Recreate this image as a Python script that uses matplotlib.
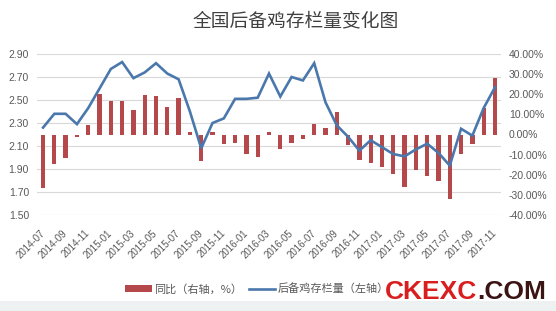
import matplotlib.pyplot as plt
from matplotlib.patches import Rectangle

plt.rcParams['font.family'] = ['Noto Sans CJK SC', 'DejaVu Sans']

months = [
    '2014-07', '2014-08', '2014-09', '2014-10', '2014-11', '2014-12',
    '2015-01', '2015-02', '2015-03', '2015-04', '2015-05', '2015-06',
    '2015-07', '2015-08', '2015-09', '2015-10', '2015-11', '2015-12',
    '2016-01', '2016-02', '2016-03', '2016-04', '2016-05', '2016-06',
    '2016-07', '2016-08', '2016-09', '2016-10', '2016-11', '2016-12',
    '2017-01', '2017-02', '2017-03', '2017-04', '2017-05', '2017-06',
    '2017-07', '2017-08', '2017-09', '2017-10', '2017-11',
]

# 后备鸡存栏量 (left axis)
stock = [2.26, 2.38, 2.38, 2.29, 2.43, 2.60, 2.77, 2.83, 2.69, 2.74, 2.82,
         2.73, 2.68, 2.40, 2.08, 2.30, 2.34, 2.51, 2.51, 2.52, 2.73, 2.53,
         2.70, 2.67, 2.82, 2.48, 2.28, 2.18, 2.06, 2.15, 2.09, 2.03, 2.01,
         2.07, 2.12, 2.04, 1.93, 2.25, 2.19, 2.43, 2.61]

# 同比 % (right axis)
yoy = [-26.7, -14.5, -11.7, -1.0, 4.7, 20.3, 16.7, 16.7, 12.2, 19.7, 19.2,
       13.8, 18.0, 1.0, -13.0, 1.0, -4.7, -4.0, -9.5, -11.2, 1.0, -7.2,
       -4.0, -2.2, 5.3, 3.0, 11.2, -5.3, -12.5, -14.2, -16.3, -19.7, -26.2,
       -17.8, -20.5, -23.3, -32.0, -9.5, -4.7, 13.3, 28.3]

left_ticks = [1.50, 1.70, 1.90, 2.10, 2.30, 2.50, 2.70, 2.90]
right_ticks = [-40, -30, -20, -10, 0, 10, 20, 30, 40]

bar_color = '#B5484A'
line_color = '#4A78AC'
tick_color = '#595959'

fig = plt.figure(figsize=(5.56, 3.11), dpi=100)
fig.patch.set_facecolor('white')
# light grey band at the bottom of the picture
fig.patches.append(Rectangle((0, 0), 1, 10 / 311, transform=fig.transFigure,
                             facecolor='#EEF1F1', edgecolor='none', zorder=0))

ax = fig.add_axes([37.4 / 556, 1 - 215 / 311, (500.6 - 37.4) / 556, (215 - 54) / 311])
ax2 = ax.twinx()

x = list(range(len(months)))

# grid from the left axis
ax.set_ylim(1.50, 2.90)
ax.set_yticks(left_ticks)
ax.set_yticklabels([f'{v:.2f}' for v in left_ticks], family='Liberation Sans',
                   fontsize=7.5, color=tick_color)
ax.grid(axis='y', color='#D9D9D9', linewidth=0.8)
ax.set_axisbelow(True)
ax.set_xlim(-0.5, len(months) - 0.5)

# bars on the right axis
bars = ax2.bar(x, yoy, width=0.38, color=bar_color, zorder=2)
ax2.set_ylim(-40, 40)
ax2.set_yticks(right_ticks)
ax2.set_yticklabels([f'{v:.2f}%' for v in right_ticks], family='Liberation Sans',
                    fontsize=7.5, color=tick_color)
# line uses the left scale but is drawn above the bars
line, = ax2.plot(x, stock, color=line_color, linewidth=1.9, zorder=3,
                 transform=ax.transData, solid_joinstyle='miter')

ax.set_xticks(x[::2])
ax.set_xticklabels(months[::2], rotation=45, ha='right', va='center',
                   rotation_mode='anchor', family='Liberation Sans',
                   fontsize=7, color=tick_color)

for a in (ax, ax2):
    for s in a.spines.values():
        s.set_visible(False)
    a.tick_params(length=0)
ax.tick_params(axis='x', pad=12)
ax.tick_params(axis='y', pad=6)
ax2.tick_params(axis='y', pad=6)

fig.text(296 / 556, 1 - 21 / 311, '全国后备鸡存栏量变化图', ha='center', va='center',
         fontsize=13.5, color='#404040')

fig.legend([bars, line], ['同比（右轴，%）', '后备鸡存栏量（左轴）'],
           loc='center left', bbox_to_anchor=(115 / 556, 1 - 289 / 311),
           ncol=2, frameon=False, fontsize=8, handlelength=2.4, handletextpad=0.2,
           columnspacing=0.6, labelcolor=tick_color)

# watermark
t1 = fig.text(385 / 556, 1 - 299 / 311, 'CKEXC', ha='left', va='baseline',
              family='Liberation Sans', fontweight='bold', fontsize=19,
              color='#D81E1E', zorder=10)
ax.annotate('.COM', xy=(1, 0), xycoords=t1, ha='left', va='bottom',
            family='Liberation Sans', fontweight='bold', fontsize=19,
            color='#3B1414', annotation_clip=False, zorder=10)

fig.savefig('out.png', dpi=100)
